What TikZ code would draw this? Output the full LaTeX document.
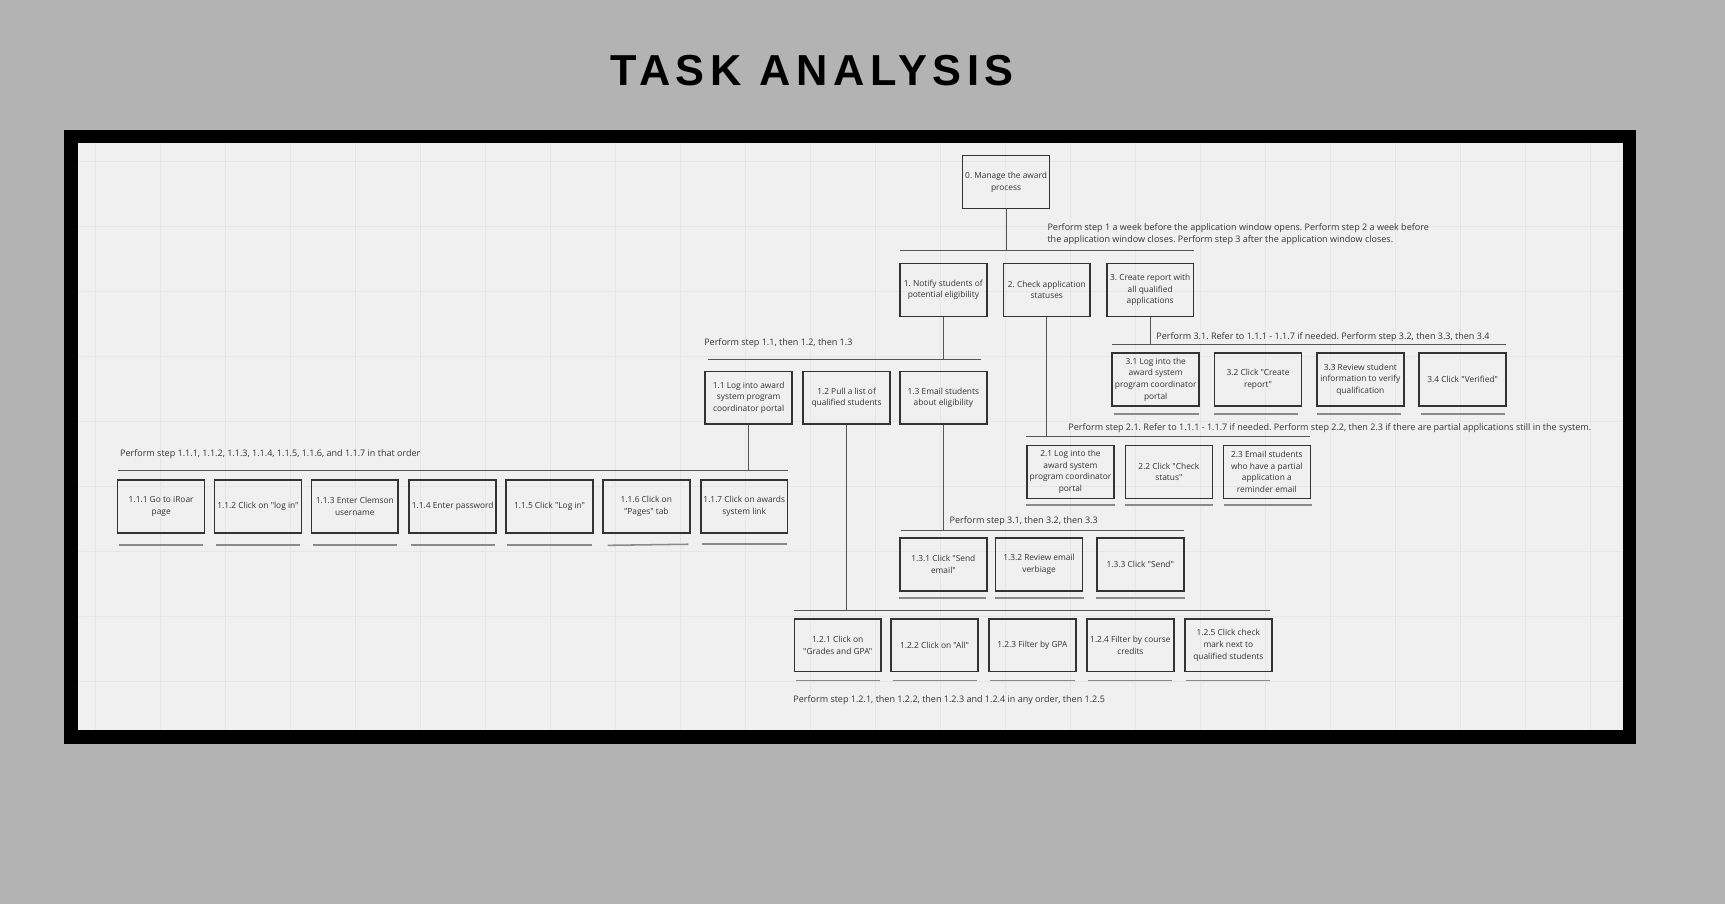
\documentclass[tikz,border=0pt]{standalone}
\usepackage{fontspec}
\setmainfont{Open Sans}[Ligatures=TeXOff]
\newfontfamily\titlefont[LetterSpace=12.9]{Liberation Sans}
\usepackage{tikz}
\frenchspacing
\definecolor{pagegray}{HTML}{B3B3B3}
\definecolor{panelgray}{HTML}{F0F0F0}
\definecolor{gridgray}{HTML}{E6E6E6}
\definecolor{boxgray}{HTML}{333333}
\definecolor{linkgray}{HTML}{555555}
\definecolor{rulegray}{HTML}{8A8A8A}
\definecolor{textgray}{HTML}{333333}
\newcommand{\taskfont}{\fontsize{7.6}{10.6}\selectfont}
\newcommand{\notefont}{\fontsize{8.2}{11}\selectfont}
\tikzstyle{task}=[draw=boxgray, line width=1.4pt, minimum width=79pt, minimum height=48pt,
                  inner xsep=0.5pt, inner ysep=0, align=center, text=textgray, font=\taskfont]
\tikzstyle{note}=[anchor=west, inner sep=0, align=left, text=textgray, font=\notefont]
\tikzstyle{link}=[draw=linkgray, line width=0.9pt]
\tikzstyle{underline}=[draw=rulegray, line width=1.4pt]
\tikzstyle{gridline}=[draw=gridgray, line width=0.8pt]

\begin{document}
\begin{tikzpicture}[x=1pt, y=-1pt]
        \useasboundingbox[fill=pagegray] (0,0) rectangle (1568,821.7);
        \node[anchor=base west, inner sep=0, font=\titlefont\bfseries\fontsize{39.4}{40}\selectfont] (title) at (554.5,78) {TASK ANALYSIS};
        % frame and board
        \fill[black] (58,118) rectangle (1487,676);
        \fill[panelgray] (71,130) rectangle (1475,664);
        \begin{scope}
            \clip (71,130) rectangle (1475,664);
            \foreach \i in {0,...,23} \draw[gridline] ({86.3+59.1*\i},130) -- ++(0,534);
            \foreach \j in {0,...,8} \draw[gridline] (71,{146.5+59.1*\j}) -- ++(1404,0);
        \end{scope}

        \node[task] (n0) at (914.5,165.5) {0. Manage the award\\process};

        \node[task] (n1) at (857.5,263.5) {1. Notify students of\\potential eligibility};
        \node[task] (n2) at (951.5,263.5) {2. Check application\\statuses};
        \node[task] (n3) at (1045.5,263.5) {3. Create report with\\all qualified\\applications};

        \node[task] (n11) at (680.5,361.5) {1.1 Log into award\\system program\\coordinator portal};
        \node[task] (n12) at (769.5,361.5) {1.2 Pull a list of\\qualified students};
        \node[task] (n13) at (857.5,361.5) {1.3 Email students\\about eligibility};

        \node[task] (n111) at (146.5,460.5) {1.1.1 Go to iRoar\\page};
        \node[task] (n112) at (234.5,460.5) {1.1.2 Click on "log in"};
        \node[task] (n113) at (322.5,460.5) {1.1.3 Enter Clemson\\username};
        \node[task] (n114) at (411.5,460.5) {1.1.4 Enter password};
        \node[task] (n115) at (499.5,460.5) {1.1.5 Click "Log in"};
        \node[task] (n116) at (587.5,460.5) {1.1.6 Click on\\"Pages" tab};
        \node[task] (n117) at (676.5,460.5) {1.1.7 Click on awards\\system link};

        \node[task] (n121) at (761.5,586.5) {1.2.1 Click on\\"Grades and GPA"};
        \node[task] (n122) at (849.5,586.5) {1.2.2 Click on "All"};
        \node[task] (n123) at (938.5,586.5) {1.2.3 Filter by GPA};
        \node[task] (n124) at (1027.5,586.5) {1.2.4 Filter by course\\credits};
        \node[task] (n125) at (1116.5,586.5) {1.2.5 Click check\\mark next to\\qualified students};

        \node[task] (n131) at (857.5,513) {1.3.1 Click "Send\\email"};
        \node[task] (n132) at (944.5,513) {1.3.2 Review email\\verbiage};
        \node[task] (n133) at (1036.5,513) {1.3.3 Click "Send"};

        \node[task] (n21) at (973,429) {2.1 Log into the\\award system\\program coordinator\\portal};
        \node[task] (n22) at (1062.5,429) {2.2 Click "Check\\status"};
        \node[task] (n23) at (1151.5,429) {2.3 Email students\\who have a partial\\application a\\reminder email};

        \node[task] (n31) at (1050.5,345) {3.1 Log into the\\award system\\program coordinator\\portal};
        \node[task] (n32) at (1143.5,345) {3.2 Click "Create\\report"};
        \node[task] (n33) at (1236.5,345) {3.3 Review student\\information to verify\\qualification};
        \node[task] (n34) at (1329.5,345) {3.4 Click "Verified"};

        \node[note] (t0) at (952,213) {Perform step 1 a week before the application window opens. Perform step 2 a week before\\the application window closes. Perform step 3 after the application window closes.};
        \node[note] (t1) at (640,311.5) {Perform step 1.1, then 1.2, then 1.3};
        \node[note] (t11) at (109,412.5) {Perform step 1.1.1, 1.1.2, 1.1.3, 1.1.4, 1.1.5, 1.1.6, and 1.1.7 in that order};
        \node[note] (t12) at (721,636.5) {Perform step 1.2.1, then 1.2.2, then 1.2.3 and 1.2.4 in any order, then 1.2.5};
        \node[note] (t13) at (863,473.5) {Perform step 3.1, then 3.2, then 3.3};
        \node[note] (t2) at (971,389.5) {Perform step 2.1. Refer to 1.1.1 - 1.1.7 if needed. Perform step 2.2, then 2.3 if there are partial applications still in the system.};
        \node[note] (t3) at (1051,306.5) {Perform 3.1. Refer to 1.1.1 - 1.1.7 if needed. Perform step 3.2, then 3.3, then 3.4};

        \coordinate (b0w) at (818,228);   \coordinate (b0e) at (1085,228);
        \coordinate (b1w) at (644,327);   \coordinate (b1e) at (892,327);
        \coordinate (b11w) at (107,428);  \coordinate (b11e) at (716,428);
        \coordinate (b12w) at (722,555);  \coordinate (b12e) at (1154,555);
        \coordinate (b13w) at (819,482);  \coordinate (b13e) at (1076,482);
        \coordinate (b2w) at (933,397);   \coordinate (b2e) at (1191,397);
        \coordinate (b3w) at (1011,313);  \coordinate (b3e) at (1369,313);

        \draw[link] (b0w) -- (b0e);
        \draw[link] (b1w) -- (b1e);
        \draw[link] (b11w) -- (b11e);
        \draw[link] (b12w) -- (b12e);
        \draw[link] (b13w) -- (b13e);
        \draw[link] (b2w) -- (b2e);
        \draw[link] (b3w) -- (b3e);
        \draw[link] (n0) -- (n0 |- b0w);
        \draw[link] (n1) -- (n1 |- b1w);
        \draw[link] (n11) -- (n11 |- b11w);
        \draw[link] (n12) -- (n12 |- b12w);
        \draw[link] (n13) -- (n13 |- b13w);
        \draw[link] (n2) -- (n2 |- b2w);
        \draw[link] (n3) -- (n3 |- b3w);

        \draw[underline] ([xshift=2pt,yshift=-10pt]n111.south west) -- ([xshift=-2pt,yshift=-10pt]n111.south east);
        \draw[underline] ([xshift=2pt,yshift=-10pt]n112.south west) -- ([xshift=-2pt,yshift=-10pt]n112.south east);
        \draw[underline] ([xshift=2pt,yshift=-10pt]n113.south west) -- ([xshift=-2pt,yshift=-10pt]n113.south east);
        \draw[underline] ([xshift=2pt,yshift=-10pt]n114.south west) -- ([xshift=-2pt,yshift=-10pt]n114.south east);
        \draw[underline] ([xshift=2pt,yshift=-10pt]n115.south west) -- ([xshift=-2pt,yshift=-10pt]n115.south east);
        \draw[underline] ([xshift=5pt,yshift=-10.5pt]n116.south west) -- ([xshift=-2pt,yshift=-9.5pt]n116.south east);
        \draw[underline] ([xshift=2pt,yshift=-9.5pt]n117.south west) -- ([xshift=-1pt,yshift=-9.5pt]n117.south east);
        \draw[underline] ([xshift=2pt,yshift=-7.5pt]n121.south west) -- ([xshift=-2pt,yshift=-7.5pt]n121.south east);
        \draw[underline] ([xshift=2pt,yshift=-7.5pt]n122.south west) -- ([xshift=-2pt,yshift=-7.5pt]n122.south east);
        \draw[underline] ([xshift=2pt,yshift=-7.5pt]n123.south west) -- ([xshift=-2pt,yshift=-7.5pt]n123.south east);
        \draw[underline] ([xshift=2pt,yshift=-7.5pt]n124.south west) -- ([xshift=-2pt,yshift=-7.5pt]n124.south east);
        \draw[underline] ([xshift=2pt,yshift=-7.5pt]n125.south west) -- ([xshift=-2pt,yshift=-7.5pt]n125.south east);
        \draw[underline] ([xshift=0pt,yshift=-6pt]n131.south west) -- ([xshift=-1pt,yshift=-6pt]n131.south east);
        \draw[underline] ([xshift=0pt,yshift=-6pt]n132.south west) -- ([xshift=1pt,yshift=-6pt]n132.south east);
        \draw[underline] ([xshift=0pt,yshift=-6pt]n133.south west) -- ([xshift=0pt,yshift=-6pt]n133.south east);
        \draw[underline] ([xshift=0pt,yshift=-5.5pt]n21.south west) -- ([xshift=0pt,yshift=-5.5pt]n21.south east);
        \draw[underline] ([xshift=0pt,yshift=-5.5pt]n22.south west) -- ([xshift=0pt,yshift=-5.5pt]n22.south east);
        \draw[underline] ([xshift=1pt,yshift=-5.5pt]n23.south west) -- ([xshift=1pt,yshift=-5.5pt]n23.south east);
        \draw[underline] ([xshift=2pt,yshift=-6.5pt]n31.south west) -- ([xshift=-1pt,yshift=-6.5pt]n31.south east);
        \draw[underline] ([xshift=0pt,yshift=-6.5pt]n32.south west) -- ([xshift=-4pt,yshift=-6.5pt]n32.south east);
        \draw[underline] ([xshift=1pt,yshift=-6.5pt]n33.south west) -- ([xshift=-3pt,yshift=-6.5pt]n33.south east);
        \draw[underline] ([xshift=2pt,yshift=-6.5pt]n34.south west) -- ([xshift=-2pt,yshift=-6.5pt]n34.south east);
    \end{tikzpicture}
\end{document}
